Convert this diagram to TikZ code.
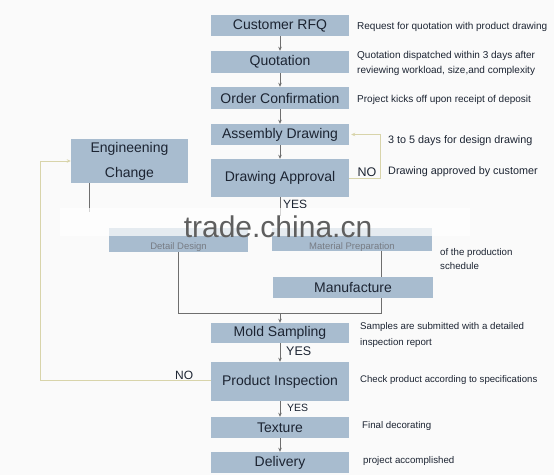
\documentclass[tikz,border=0pt]{standalone}
\usepackage{fontspec}
\setmainfont{Liberation Sans}
\usetikzlibrary{arrows.meta}
\definecolor{boxc}{RGB}{168,188,207}
\definecolor{txtc}{RGB}{28,36,50}
\definecolor{linec}{RGB}{110,110,110}
\definecolor{fbc}{RGB}{216,212,170}
\definecolor{bgc}{RGB}{250,250,250}
\definecolor{wmc}{RGB}{95,95,95}
\tikzset{
  stepbox/.style={fill=boxc, text=txtc, inner sep=0pt, minimum width=138pt, font=\fontsize{14}{16}\selectfont},
  note/.style={anchor=west, inner sep=0pt, text=txtc, font=\fontsize{10}{15}\selectfont, align=left},
  conn/.style={draw=linec, line width=0.8pt},
  arr/.style={conn, -{Stealth[length=4pt,width=3.5pt]}},
  fb/.style={draw=fbc, line width=0.9pt},
  lbl/.style={inner sep=0pt, text=txtc}
}
\begin{document}
\begin{tikzpicture}[x=1pt,y=-1pt]
\useasboundingbox (0,0) rectangle (554,475);
\fill[bgc] (0,0) rectangle (554,475);
% main column
\node[stepbox, minimum height=21pt] (rfq) at (280,25.5) {Customer RFQ};
\node[stepbox, minimum height=22pt] (quot) at (280,62) {Quotation};
\node[stepbox, minimum height=22pt] (order) at (280,98) {Order Confirmation};
\node[stepbox, minimum height=21pt] (asm) at (280,134.5) {Assembly Drawing};
\node[stepbox, minimum height=38pt] (appr) at (280,178) {Drawing Approval};
\node[stepbox, minimum width=117pt, minimum height=44pt, align=center, font=\fontsize{14}{25}\selectfont] (eng) at (129.5,161) {Engineening\\Change};
\node[stepbox, minimum width=139pt, minimum height=24pt] (detail) at (178.5,240) {};
\node[lbl, text=txtc!60, font=\fontsize{9.5}{10}\selectfont] (detailtxt) at (178.5,247.5) {Detail Design};
\node[stepbox, minimum width=160pt, minimum height=23pt] (mat) at (352,239.5) {};
\node[lbl, text=txtc!60, font=\fontsize{9.5}{10}\selectfont] (mattxt) at (352,247.5) {Material Preparation};
\node[stepbox, minimum width=160pt, minimum height=21pt] (manu) at (353,287.5) {Manufacture};
\node[stepbox, minimum height=20pt] (mold) at (280,333) {Mold Sampling};
\node[stepbox, minimum height=39pt] (insp) at (280,381.5) {Product Inspection};
\node[stepbox, minimum height=21pt] (tex) at (280,427.5) {Texture};
\node[stepbox, minimum height=21pt] (deliv) at (280,462.5) {Delivery};
% arrows main
\draw[arr] (rfq) -- (quot);
\draw[arr] (quot) -- (order);
\draw[arr] (order) -- (asm);
\draw[arr] (asm) -- (appr);
\coordinate (yesend) at (280,216);
\draw[conn] (appr.south) -- (yesend);
\node[lbl, anchor=west, font=\fontsize{12}{14}\selectfont] (yes1) at (283,204) {YES};
\coordinate (engend) at (89,212);
\draw[conn] (eng.south -| engend) -- (engend);
% bracket
\coordinate (bl) at (178.5,313);
\coordinate (br) at (381,313);
\coordinate (bm) at (280,313);
\draw[conn] (detail.south) -- (bl) -- (br) -- (manu.south -| br);
\draw[conn] (mat.south -| br) -- (manu.north -| br);
\draw[arr] (bm) -- (mold.north);
\draw[arr] (mold) -- (insp);
\node[lbl, anchor=west, font=\fontsize{12.5}{14}\selectfont] (yes2) at (286,351) {YES};
\draw[arr] (insp) -- (tex);
\node[lbl, anchor=west, font=\fontsize{10.5}{12}\selectfont] (yes3) at (287,408) {YES};
\draw[arr] (tex) -- (deliv);
% feedback loops
\coordinate (fl1) at (40,380);
\coordinate (fl2) at (40,161);
\draw[fb, -{Stealth[length=4pt,width=3.5pt]}] (insp.west |- fl1) -- (fl1) -- (fl2) -- (eng.west);
\node[lbl, anchor=west, font=\fontsize{12}{14}\selectfont] (no1) at (175,375) {NO};
\coordinate (fr1) at (380,178);
\coordinate (fr2) at (380,134.5);
\draw[fb, -{Stealth[length=4pt,width=3.5pt]}] (appr.east) -- (fr1) -- (fr2) -- ([xshift=2pt]asm.east);
\node[lbl, anchor=west, font=\fontsize{12.5}{14}\selectfont, fill=bgc, inner sep=0.5pt] (no2) at (357,172) {NO};
% watermark band
\fill[white, opacity=0.7] (60,208) rectangle (470,236);
\node[lbl, anchor=base, text=wmc, font=\fontsize{30}{32}\selectfont] (wm) at (278,237) {trade.china.cn};
% side notes
\node[note] (n1) at (357,27) {Request for quotation with product drawing};
\node[note] (n2) at (357,63.5) {Quotation dispatched within 3 days after\\reviewing workload, size,and complexity};
\node[note] (n3) at (357,100) {Project kicks off upon receipt of deposit};
\node[note, font=\fontsize{10.8}{13}\selectfont] (n4) at (388,141) {3 to 5 days for design drawing};
\node[note, font=\fontsize{10.8}{13}\selectfont] (n5) at (388,172) {Drawing approved by customer};
\node[note, font=\fontsize{9.7}{14}\selectfont] (n6) at (440,259) {of the production\\schedule};
\node[note, font=\fontsize{9.7}{16}\selectfont] (n7) at (360,335) {Samples are submitted with a detailed\\inspection report};
\node[note, font=\fontsize{9.6}{12}\selectfont] (n8) at (360,380) {Check product according to specifications};
\node[note, font=\fontsize{9.7}{12}\selectfont] (n9) at (362,426) {Final decorating};
\node[note, font=\fontsize{9.7}{12}\selectfont] (n10) at (363,461) {project accomplished};
\end{tikzpicture}
\end{document}
